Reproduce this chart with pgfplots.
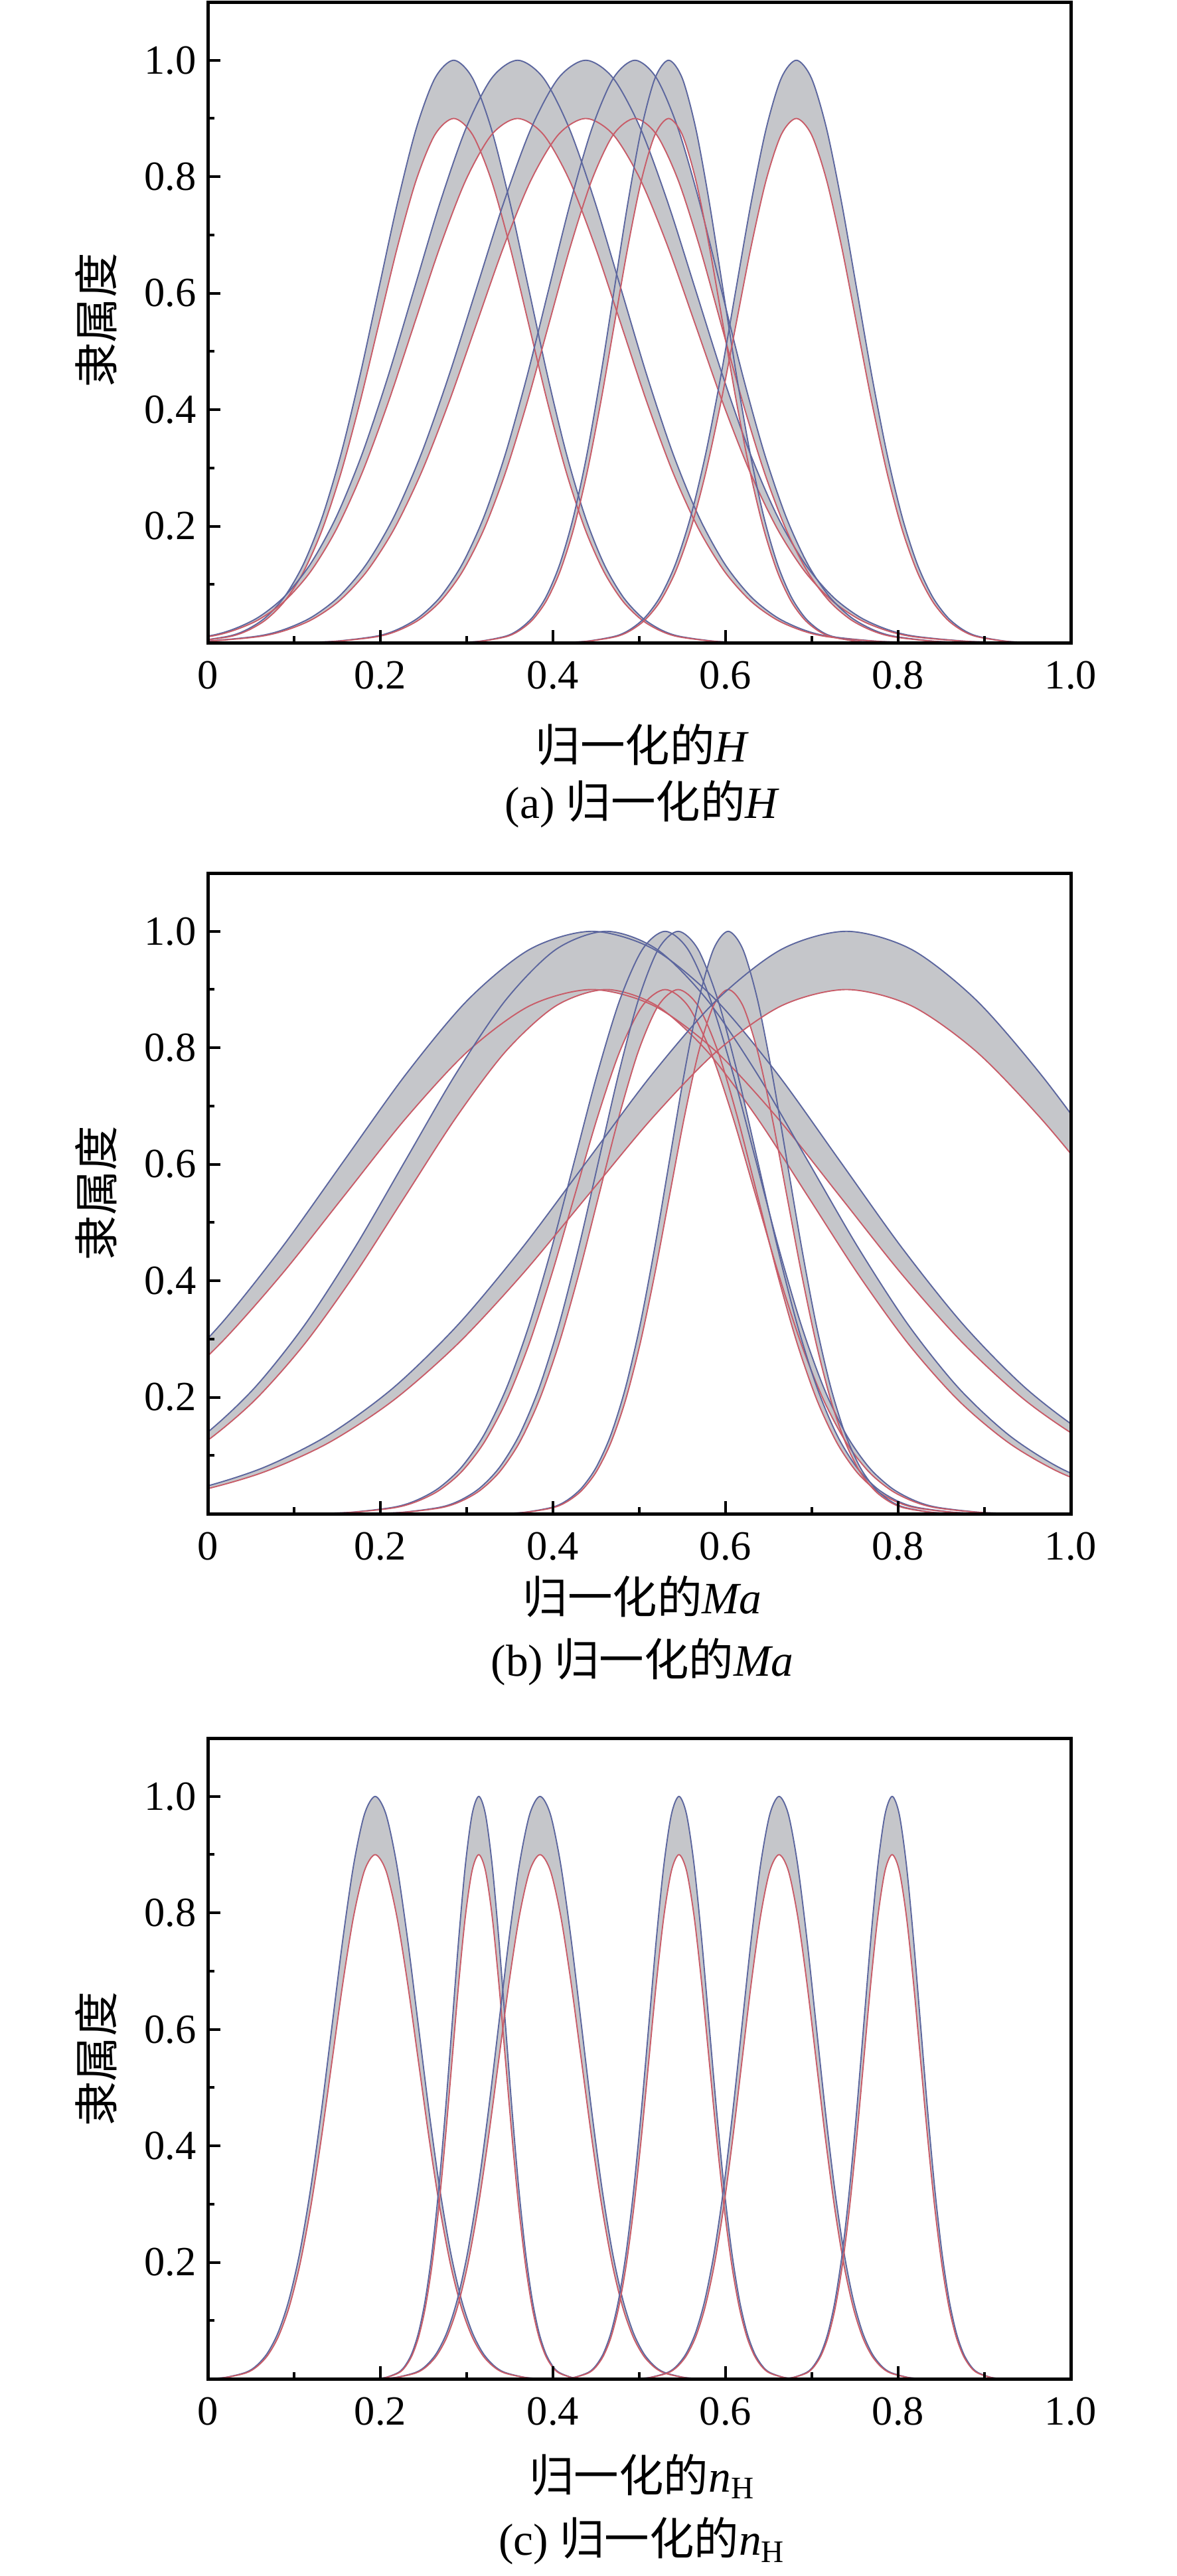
\documentclass[border=0pt]{standalone}
\usepackage{fontspec}
\setmainfont{Liberation Serif}
\newfontfamily\cjk{Noto Sans CJK SC}
\usepackage{pgfplots}
\pgfplotsset{compat=1.18}
\usepackage{pgfplotstable}
\usepgfplotslibrary{fillbetween}

\definecolor{upc}{RGB}{92,102,158}
\definecolor{loc}{RGB}{200,92,104}
\definecolor{bandc}{RGB}{197,198,202}

% columns: upper MF value, lower MF value, x of each of the six MFs
\pgfplotstableread{
yu yl m1 m2 m3 m4 m5 m6
0.00034 0.00030 -0.063 -0.121 -0.070 0.095 0.282 0.402
0.00219 0.00197 -0.0195 -0.061 -0.0065 0.145 0.3135 0.437
0.01111 0.01000 0.024 -0.001 0.057 0.195 0.345 0.472
0.02279 0.02051 0.04575 0.029 0.08875 0.22 0.36075 0.4895
0.04394 0.03954 0.0675 0.059 0.1205 0.245 0.3765 0.507
0.07956 0.07160 0.08925 0.089 0.15225 0.27 0.39225 0.5245
0.13534 0.12181 0.111 0.119 0.184 0.295 0.408 0.542
0.21627 0.19464 0.13275 0.149 0.21575 0.32 0.42375 0.5595
0.32465 0.29219 0.1545 0.179 0.2475 0.345 0.4395 0.577
0.45783 0.41205 0.17625 0.209 0.27925 0.37 0.45525 0.5945
0.60653 0.54588 0.198 0.239 0.311 0.395 0.471 0.612
0.75484 0.67936 0.21975 0.269 0.34275 0.42 0.48675 0.6295
0.88250 0.79425 0.2415 0.299 0.3745 0.445 0.5025 0.647
0.96923 0.87231 0.26325 0.329 0.40625 0.47 0.51825 0.6645
1.00000 0.90000 0.285 0.359 0.438 0.495 0.534 0.682
0.96923 0.87231 0.30675 0.389 0.46975 0.52 0.54975 0.6995
0.88250 0.79425 0.3285 0.419 0.5015 0.545 0.5655 0.717
0.75484 0.67936 0.35025 0.449 0.53325 0.57 0.58125 0.7345
0.60653 0.54588 0.372 0.479 0.565 0.595 0.597 0.752
0.45783 0.41205 0.39375 0.509 0.59675 0.62 0.61275 0.7695
0.32465 0.29219 0.4155 0.539 0.6285 0.645 0.6285 0.787
0.21627 0.19464 0.43725 0.569 0.66025 0.67 0.64425 0.8045
0.13534 0.12181 0.459 0.599 0.692 0.695 0.66 0.822
0.07956 0.07160 0.48075 0.629 0.72375 0.72 0.67575 0.8395
0.04394 0.03954 0.5025 0.659 0.7555 0.745 0.6915 0.857
0.02279 0.02051 0.52425 0.689 0.78725 0.77 0.70725 0.8745
0.01111 0.01000 0.546 0.719 0.819 0.795 0.723 0.892
0.00219 0.00197 0.5895 0.779 0.8825 0.845 0.7545 0.927
0.00034 0.00030 0.633 0.839 0.946 0.895 0.786 0.962
}\taba

\pgfplotstableread{
yu yl m1 m2 m3 m4 m5 m6
0.00034 0.00030 -0.703 -0.47 0.11 0.177 0.331 -0.46
0.00219 0.00197 -0.5595 -0.3535 0.1625 0.223 0.365 -0.31
0.01111 0.01000 -0.416 -0.237 0.215 0.269 0.399 -0.16
0.02279 0.02051 -0.34425 -0.17875 0.24125 0.292 0.416 -0.085
0.04394 0.03954 -0.2725 -0.1205 0.2675 0.315 0.433 -0.01
0.07956 0.07160 -0.20075 -0.06225 0.29375 0.338 0.45 0.065
0.13534 0.12181 -0.129 -0.004 0.32 0.361 0.467 0.14
0.21627 0.19464 -0.05725 0.05425 0.34625 0.384 0.484 0.215
0.32465 0.29219 0.0145 0.1125 0.3725 0.407 0.501 0.29
0.45783 0.41205 0.08625 0.17075 0.39875 0.43 0.518 0.365
0.60653 0.54588 0.158 0.229 0.425 0.453 0.535 0.44
0.75484 0.67936 0.22975 0.28725 0.45125 0.476 0.552 0.515
0.88250 0.79425 0.3015 0.3455 0.4775 0.499 0.569 0.59
0.96923 0.87231 0.37325 0.40375 0.50375 0.522 0.586 0.665
1.00000 0.90000 0.445 0.462 0.53 0.545 0.603 0.74
0.96923 0.87231 0.51675 0.52025 0.55625 0.568 0.62 0.815
0.88250 0.79425 0.5885 0.5785 0.5825 0.591 0.637 0.89
0.75484 0.67936 0.66025 0.63675 0.60875 0.614 0.654 0.965
0.60653 0.54588 0.732 0.695 0.635 0.637 0.671 1.04
0.45783 0.41205 0.80375 0.75325 0.66125 0.66 0.688 1.115
0.32465 0.29219 0.8755 0.8115 0.6875 0.683 0.705 1.19
0.21627 0.19464 0.94725 0.86975 0.71375 0.706 0.722 1.265
0.13534 0.12181 1.019 0.928 0.74 0.729 0.739 1.34
0.07956 0.07160 1.09075 0.98625 0.76625 0.752 0.756 1.415
0.04394 0.03954 1.1625 1.0445 0.7925 0.775 0.773 1.49
0.02279 0.02051 1.23425 1.10275 0.81875 0.798 0.79 1.565
0.01111 0.01000 1.306 1.161 0.845 0.821 0.807 1.64
0.00219 0.00197 1.4495 1.2775 0.8975 0.867 0.841 1.79
0.00034 0.00030 1.593 1.394 0.95 0.913 0.875 1.94
}\tabb

\pgfplotstableread{
yu yl m1 m2 m3 m4 m5 m6
0.00034 0.00030 -0.006 0.19 0.193 0.406 0.49 0.661
0.00219 0.00197 0.019 0.2055 0.217 0.4235 0.5115 0.6775
0.01111 0.01000 0.044 0.221 0.241 0.441 0.533 0.694
0.02279 0.02051 0.0565 0.22875 0.253 0.44975 0.54375 0.70225
0.04394 0.03954 0.069 0.2365 0.265 0.4585 0.5545 0.7105
0.07956 0.07160 0.0815 0.24425 0.277 0.46725 0.56525 0.71875
0.13534 0.12181 0.094 0.252 0.289 0.476 0.576 0.727
0.21627 0.19464 0.1065 0.25975 0.301 0.48475 0.58675 0.73525
0.32465 0.29219 0.119 0.2675 0.313 0.4935 0.5975 0.7435
0.45783 0.41205 0.1315 0.27525 0.325 0.50225 0.60825 0.75175
0.60653 0.54588 0.144 0.283 0.337 0.511 0.619 0.76
0.75484 0.67936 0.1565 0.29075 0.349 0.51975 0.62975 0.76825
0.88250 0.79425 0.169 0.2985 0.361 0.5285 0.6405 0.7765
0.96923 0.87231 0.1815 0.30625 0.373 0.53725 0.65125 0.78475
1.00000 0.90000 0.194 0.314 0.385 0.546 0.662 0.793
0.96923 0.87231 0.2065 0.32175 0.397 0.55475 0.67275 0.80125
0.88250 0.79425 0.219 0.3295 0.409 0.5635 0.6835 0.8095
0.75484 0.67936 0.2315 0.33725 0.421 0.57225 0.69425 0.81775
0.60653 0.54588 0.244 0.345 0.433 0.581 0.705 0.826
0.45783 0.41205 0.2565 0.35275 0.445 0.58975 0.71575 0.83425
0.32465 0.29219 0.269 0.3605 0.457 0.5985 0.7265 0.8425
0.21627 0.19464 0.2815 0.36825 0.469 0.60725 0.73725 0.85075
0.13534 0.12181 0.294 0.376 0.481 0.616 0.748 0.859
0.07956 0.07160 0.3065 0.38375 0.493 0.62475 0.75875 0.86725
0.04394 0.03954 0.319 0.3915 0.505 0.6335 0.7695 0.8755
0.02279 0.02051 0.3315 0.39925 0.517 0.64225 0.78025 0.88375
0.01111 0.01000 0.344 0.407 0.529 0.651 0.791 0.892
0.00219 0.00197 0.369 0.4225 0.553 0.6685 0.8125 0.9085
0.00034 0.00030 0.394 0.438 0.577 0.686 0.834 0.925
}\tabc

\pgfplotsset{
  panel/.style={
    scale only axis, width=260pt, height=193pt,
    xmin=0, xmax=1, ymin=0, ymax=1.1,
    set layers, axis on top,
    axis line style={black, line width=1pt},
    tick align=inside, xtick pos=left, ytick pos=left,
    xtick={0,0.2,0.4,0.6,0.8,1}, xticklabels={0,0.2,0.4,0.6,0.8,1.0},
    minor xtick={0.1,0.3,0.5,0.7,0.9},
    ytick={0.2,0.4,0.6,0.8,1}, yticklabels={0.2,0.4,0.6,0.8,1.0},
    minor ytick={0.1,0.3,0.5,0.7,0.9},
    major tick length=3.8pt, minor tick length=2pt,
    tick style={black, line width=0.8pt},
    tick label style={font=\fontsize{12.5}{14}\selectfont},
    xticklabel style={yshift=-2pt},
  },
}

\newcommand\mf[3]{%
  \addplot[upc, line width=0.38pt, smooth, name path=#3u#2] table[x=#2,y=yu]{#1};
  \addplot[loc, line width=0.38pt, smooth, name path=#3l#2] table[x=#2,y=yl]{#1};
  \addplot[fill=bandc, draw=none] fill between[of=#3u#2 and #3l#2];
}

\begin{document}
\begin{tikzpicture}

% (a)
\begin{axis}[panel, at={(62.6pt,-193.6pt)}, anchor=south west]
\mf{\taba}{m1}{a}\mf{\taba}{m2}{a}\mf{\taba}{m3}{a}
\mf{\taba}{m4}{a}\mf{\taba}{m5}{a}\mf{\taba}{m6}{a}
\end{axis}

% (b)
\begin{axis}[panel, at={(62.6pt,-456pt)}, anchor=south west]
\mf{\tabb}{m1}{b}\mf{\tabb}{m2}{b}\mf{\tabb}{m3}{b}
\mf{\tabb}{m4}{b}\mf{\tabb}{m5}{b}\mf{\tabb}{m6}{b}
\end{axis}

% (c)
\begin{axis}[panel, at={(62.6pt,-716.6pt)}, anchor=south west]
\mf{\tabc}{m1}{c}\mf{\tabc}{m2}{c}\mf{\tabc}{m3}{c}
\mf{\tabc}{m4}{c}\mf{\tabc}{m5}{c}\mf{\tabc}{m6}{c}
\end{axis}

\tikzset{lab/.style={font=\fontsize{13.5}{16}\selectfont, inner sep=0pt}}
\node[lab, rotate=90] at (29pt,-96.5pt) {\cjk 隶属度};
\node[lab, rotate=90] at (29pt,-359.4pt) {\cjk 隶属度};
\node[lab, rotate=90] at (29pt,-620.3pt) {\cjk 隶属度};

\node[lab] at (193.5pt,-224.4pt) {{\cjk 归一化的}\textit{H}};
\node[lab] at (193.5pt,-242.2pt) {(a) {\cjk 归一化的}\textit{H}};
\node[lab] at (193.5pt,-481pt) {{\cjk 归一化的}\textit{Ma}};
\node[lab] at (193.5pt,-500.6pt) {(b) {\cjk 归一化的}\textit{Ma}};
\node[lab] at (193.5pt,-746pt) {{\cjk 归一化的}\textit{n}\textsubscript{H}};
\node[lab] at (193.5pt,-765.4pt) {(c) {\cjk 归一化的}\textit{n}\textsubscript{H}};

\path (0pt,0pt) rectangle (354.4pt,-776pt);
\end{tikzpicture}
\end{document}
